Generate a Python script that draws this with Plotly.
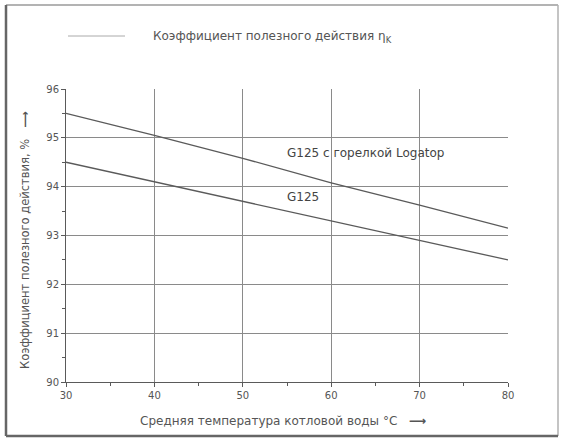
import plotly.graph_objects as go

temps = [30, 40, 50, 60, 70, 80]
eff_logatop = [95.5, 95.05, 94.58, 94.08, 93.62, 93.15]
eff_g125 = [94.5, 94.1, 93.7, 93.3, 92.9, 92.5]
x_ticks = [30, 40, 50, 60, 70, 80]
y_ticks = [90, 91, 92, 93, 94, 95, 96]
label_logatop = "G125 с горелкой Logatop"
label_g125 = "G125"
legend_text = "Коэффициент полезного действия η<sub>K</sub>"
x_title = "Средняя температура котловой воды °С"
y_title = "Коэффициент полезного действия, %"

TXT = "#555555"
LINE = "#5a5a5a"
FONT = "DejaVu Sans"

fig = go.Figure()
fig.add_trace(go.Scatter(x=temps, y=eff_logatop, mode="lines",
                         line=dict(color=LINE, width=1.3), showlegend=False))
fig.add_trace(go.Scatter(x=temps, y=eff_g125, mode="lines",
                         line=dict(color=LINE, width=1.3), showlegend=False))

W, H = 564, 441
L, R, T, B = 66, 56, 89, 59
pw, ph = W - L - R, H - T - B

def px(xp):
    return (xp - L) / pw

def py(yp):
    return (H - B - yp) / ph

axis_common = dict(showgrid=True, gridcolor="#8a8a8a", gridwidth=1,
                   showline=True, linecolor=LINE, linewidth=1,
                   ticks="outside", ticklen=4, tickcolor=LINE,
                   tickfont=dict(family=FONT, size=10, color=TXT),
                   zeroline=False, mirror=False)

fig.update_xaxes(range=[30, 80], tickvals=x_ticks,
                 minor=dict(dtick=5, ticks="outside", ticklen=3, tickcolor=LINE, showgrid=False),
                 **axis_common)
fig.update_yaxes(range=[90, 96], tickvals=y_ticks,
                 minor=dict(dtick=0.5, ticks="outside", ticklen=3, tickcolor=LINE, showgrid=False),
                 **axis_common)

# outer frame
def frame_line(x0, y0, x1, y1, color, width):
    fig.add_shape(type="line", xref="paper", yref="paper",
                  x0=px(x0), x1=px(x1), y0=py(y0), y1=py(y1),
                  line=dict(color=color, width=width))

frame_line(6, 5, 558, 5, "#9a9a9a", 1.5)
frame_line(558, 5, 558, 436, "#b0b0b0", 1.5)
frame_line(6, 5, 6, 436, "#666666", 2.5)
frame_line(6, 436, 558, 436, "#666666", 2.5)

# legend line
fig.add_shape(type="line", xref="paper", yref="paper",
              x0=px(68), x1=px(125), y0=py(36), y1=py(36),
              line=dict(color="#aaaaaa", width=1))

ann = []
ann.append(dict(x=px(151), y=py(37), xref="paper", yref="paper", text=legend_text,
                showarrow=False, xanchor="left", yanchor="middle",
                font=dict(family=FONT, size=12, color=TXT)))
ann.append(dict(x=54.8, y=94.69, xref="x", yref="y", text=label_logatop,
                showarrow=False, xanchor="left", yanchor="middle",
                font=dict(family=FONT, size=12, color="#444444")))
ann.append(dict(x=54.8, y=93.79, xref="x", yref="y", text=label_g125,
                showarrow=False, xanchor="left", yanchor="middle",
                font=dict(family=FONT, size=12, color="#444444")))
ann.append(dict(x=px(283), y=py(421), xref="paper", yref="paper",
                text=x_title + "   <b>⟶</b>",
                showarrow=False, xanchor="center", yanchor="middle",
                font=dict(family=FONT, size=12, color=TXT)))
ann.append(dict(x=px(25), y=py(240), xref="paper", yref="paper",
                text=y_title + "   <b>⟶</b>", textangle=-90,
                showarrow=False, xanchor="center", yanchor="middle",
                font=dict(family=FONT, size=11.5, color=TXT)))

fig.update_layout(width=W, height=H, margin=dict(l=L, r=R, t=T, b=B),
                  paper_bgcolor="white", plot_bgcolor="white",
                  showlegend=False, annotations=ann)

fig.write_html("out.html", config={"displayModeBar": False},
               post_script="document.body.style.margin='0';document.body.style.overflow='hidden';")
